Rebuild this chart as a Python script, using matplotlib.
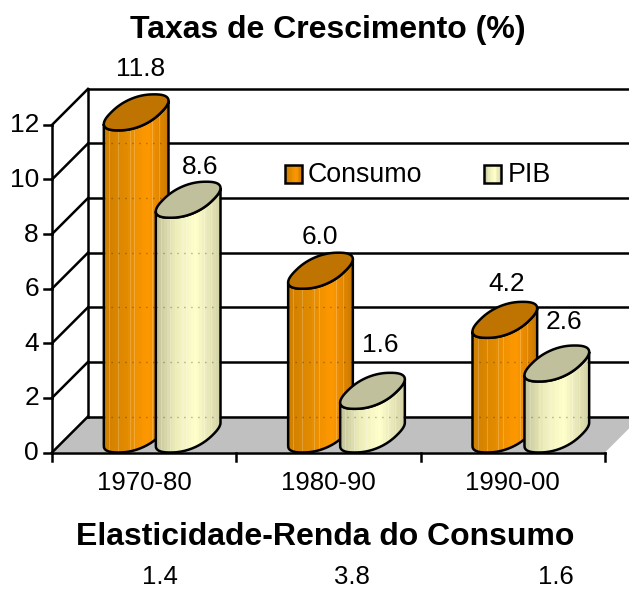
# Taxas de Crescimento - 3D style cylinders drawn by hand
import numpy as np
import matplotlib
matplotlib.use("Agg")
import matplotlib.pyplot as plt
from matplotlib.patches import Polygon, PathPatch, Rectangle
from matplotlib.path import Path
from matplotlib.colors import LinearSegmentedColormap

plt.rcParams['font.family'] = ['Liberation Sans', 'DejaVu Sans']

# Data
periods = ["1970-80", "1980-90", "1990-00"]
consumo = [11.8, 6.0, 4.2]
pib = [8.6, 1.6, 2.6]
elasticidade = ["1.4", "3.8", "1.6"]
y_ticks = [0, 2, 4, 6, 8, 10, 12]

# Layout: pixels per data unit and position of the origin
W, H = 629, 589
x0_px, y0_px = 52, 452.5
x_scale, y_scale = 184.33, 27.3
depth_px = 36
depth_x = depth_px / x_scale
depth_y = depth_px / y_scale
bar_w = 50 / x_scale
bar_off = 26 / x_scale
lw = 1.8
small = 19
big = 23

fig = plt.figure(figsize=(W / 100, H / 100), dpi=100)
ax = fig.add_axes([0, 0, 1, 1])
ax.set_axis_off()
xlim = (-x0_px / x_scale, (W - x0_px) / x_scale)
ylim = ((y0_px - H) / y_scale, y0_px / y_scale)

# Floor, back wall and gridlines
ax.add_patch(Polygon([(0, 0), (depth_x, depth_y), (3 + depth_x, depth_y), (3, 0)],
                     closed=True, fc="#c0c0c0", ec="none", zorder=1))
for t in y_ticks:
    ax.plot([0, depth_x], [t, t + depth_y], color="k", lw=lw, zorder=2)
    ax.plot([depth_x, 3 + depth_x], [t + depth_y, t + depth_y], color="k", lw=lw, zorder=2)
    ax.plot([-8 / x_scale, 0], [t, t], color="k", lw=lw, zorder=2)
    ax.text(-13 / x_scale, t - 0.5 / y_scale, str(t), ha="right", va="center", fontsize=small, zorder=2)
ax.plot([depth_x, depth_x], [depth_y, 12 + depth_y], color="k", lw=lw, zorder=2)
ax.plot([0, 0], [0, 12], color="k", lw=lw, zorder=2)
ax.plot([0, 3], [0, 0], color="k", lw=lw, zorder=2)
for i in range(4):
    ax.plot([i, i], [0, -8 / y_scale], color="k", lw=lw, zorder=2)

orange_cmap = LinearSegmentedColormap.from_list(
    "orange", [(0, "#d08000"), (0.3, "#e08a00"), (0.68, "#ff9900"), (1, "#cc7a00")])
pale_cmap = LinearSegmentedColormap.from_list(
    "pale", [(0, "#c4c49c"), (0.3, "#eeeebc"), (0.62, "#ffffcc"), (1, "#d4d4a8")])


def ellipse(cx, cy, t):
    # slightly squared ellipse, the caps in the picture are fat
    c = np.sign(np.cos(t)) * np.abs(np.cos(t)) ** 0.85
    s = np.sign(np.sin(t)) * np.abs(np.sin(t)) ** 0.85
    return cx + bar_w / 2 * c + depth_x / 2 * s, cy + depth_y / 2 * s


def cylinder(cx, value, cmap, cap, z):
    # cx is the centre on the front plane, cap sits half the depth back
    cx = cx + depth_x / 2
    cb = depth_y / 2
    ct = value + depth_y / 2
    # find leftmost and rightmost point of the ellipse
    t = np.linspace(0, 2 * np.pi, 361)
    xe, _ = ellipse(cx, 0, t)
    t_r = t[np.argmax(xe)]
    t_low = np.linspace(t_r + np.pi, t_r + 2 * np.pi, 120)
    xb, yb = ellipse(cx, cb, t_low)
    xt, yt = ellipse(cx, ct, t_low[::-1])
    verts = list(zip(xb, yb)) + list(zip(xt, yt)) + [(xb[0], yb[0])]
    body = Path(verts, closed=False)
    ax.add_patch(PathPatch(body, fc="none", ec="k", lw=lw, zorder=z + 0.2))
    clip = PathPatch(body, transform=ax.transData)
    left, right = xb[0], xb[-1]
    strip = np.linspace(0, 1, 24).reshape(1, -1)
    img = ax.imshow(strip, cmap=cmap, aspect="auto", interpolation="nearest",
                    extent=(left, right, 0, ct + depth_y), zorder=z)
    img.set_clip_path(clip)
    # pale seams between the shading strips
    for f in [0.08, 0.22, 0.4, 0.47, 0.74, 0.85]:
        ln = ax.plot([left + f * (right - left)] * 2, [0, ct + depth_y], color="w",
                     alpha=0.22, lw=0.7, zorder=z + 0.1)[0]
        ln.set_clip_path(clip)
    # back gridlines show faintly through the columns
    for g in y_ticks:
        ln = ax.plot([left, right], [g + depth_y] * 2, color="k", alpha=0.3, lw=1,
                     ls=(0, (1, 4)), zorder=z + 0.1)[0]
        ln.set_clip_path(clip)
    # top cap
    xc, yc = ellipse(cx, ct, t)
    ax.add_patch(Polygon(np.column_stack([xc, yc]), closed=True, fc=cap, ec="k",
                         lw=lw, zorder=z + 0.3))


for i in range(3):
    centre = i + 0.5
    cylinder(centre - bar_off, consumo[i], orange_cmap, "#bf7300", 3 + 2 * i)
    cylinder(centre + bar_off, pib[i], pale_cmap, "#c0c09c", 4 + 2 * i)

# Value labels, offsets in pixels from the top of each cap
values = [consumo[0], pib[0], consumo[1], pib[1], consumo[2], pib[2]]
positions = [0.5 - bar_off, 0.5 + bar_off, 1.5 - bar_off, 1.5 + bar_off, 2.5 - bar_off, 2.5 + bar_off]
offsets = [(4, 25), (12, 15), (-1, 16), (8, 28), (2, 18), (7, 24)]
for v, p, off in zip(values, positions, offsets):
    ax.annotate(f"{v:.1f}", (p + depth_x / 2, v + depth_y), xytext=off,
                textcoords="offset pixels", ha="center", va="center",
                fontsize=small, zorder=20)

# Category labels
for i, p in enumerate(periods):
    ax.text(i + 0.5, -31 / y_scale, p, ha="center", va="center", fontsize=small - 0.5, zorder=20)

# Legend
for x_px, label, cmap, tx in [(285, "Consumo", orange_cmap, 308), (484, "PIB", pale_cmap, 508)]:
    x_a = (x_px - x0_px) / x_scale
    x_b = (x_px + 17 - x0_px) / x_scale
    y_a = (y0_px - 183) / y_scale
    y_b = (y0_px - 165) / y_scale
    ax.imshow(np.linspace(0, 1, 12).reshape(1, -1), cmap=cmap, aspect="auto",
              interpolation="nearest", extent=(x_a, x_b, y_a, y_b), zorder=15)
    ax.add_patch(Rectangle((x_a, y_a), x_b - x_a, y_b - y_a, fc="none", ec="k", lw=lw, zorder=16))
    ax.text((tx - x0_px) / x_scale, (y_a + y_b) / 2 - 1.5 / y_scale, label, ha="left", va="center",
            fontsize=small + 0.3, zorder=16)
ax.set_xlim(*xlim)
ax.set_ylim(*ylim)

# Titles and elasticity row
fig.text(328 / W, 1 - 30 / H, "Taxas de Crescimento (%)", ha="center", va="center",
         fontsize=big, fontweight="bold")
fig.text(325 / W, 1 - 537 / H, "Elasticidade-Renda do Consumo", ha="center", va="center",
         fontsize=big, fontweight="bold")
for x_px, e in zip([160, 352, 556], elasticidade):
    fig.text(x_px / W, 1 - 577 / H, e, ha="center", va="center", fontsize=small - 0.5)

fig.savefig("out.png", dpi=100)
